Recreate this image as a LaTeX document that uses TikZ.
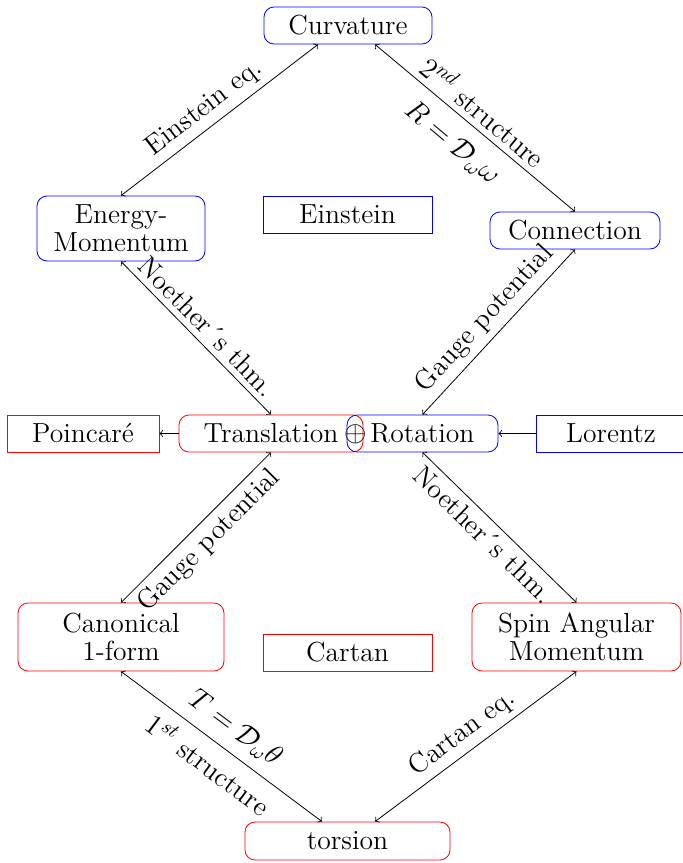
\documentclass[tikz,border=0pt]{standalone}
\usepackage{amsmath}
\begin{document}
\begin{tikzpicture}[x=0.5pt,y=-0.5pt,
  every node/.style={font=\fontsize{13.8}{14}\selectfont},
  boxbase/.style={align=center, inner sep=1pt, minimum height=18.5pt},
  bround/.style={boxbase, draw=blue, rounded corners=5pt},
  rround/.style={boxbase, draw=red, rounded corners=5pt},
  bsquare/.style={boxbase, draw=blue},
  rsquare/.style={boxbase, draw=red},
  lnk/.style={<->, >=to, line width=0.4pt},
  arr/.style={->, >=to, line width=0.4pt},
  lab/.style={sloped, inner sep=3pt}]
\useasboundingbox (0,0) rectangle (682,863);

% blue / top nodes
\node[bround, minimum width=84pt] (curv) at (348,25.5) {Curvature};
\node[bround, minimum width=84pt, minimum height=32.5pt] (em) at (121,228.5) {Energy-\\Momentum};
\node[bsquare, minimum width=84.5pt] (einst) at (347.5,214.5) {Einstein};
\node[bround, minimum width=85pt] (conn) at (575,230.5) {Connection};

% middle row
\node[rsquare, minimum width=76pt] (poinc) at (83,433.5) {Poincar\'e};
\node[rround, minimum width=92pt] (trans) at (271,433.5) {Translation};
\node[bround, minimum width=75.5pt] (rot) at (422.5,433.5) {Rotation};
\node[inner sep=0pt] (oplus) at (356,434) {$\oplus$};
\node[bsquare, minimum width=75pt] (lor) at (611,433.5) {Lorentz};

% bottom nodes
\node[rround, minimum width=103pt, minimum height=34pt] (canon) at (121,637) {Canonical\\1-form};
\node[rsquare, minimum width=84.5pt] (cartan) at (347.5,652.5) {Cartan};
\node[rround, minimum width=104.5pt, minimum height=34pt] (spin) at (576.5,637) {Spin Angular\\Momentum};
\node[rround, minimum width=102.5pt, minimum height=19pt] (tors) at (347.5,841) {torsion};

% connectors
\draw[lnk] ([xshift=-15pt]curv.south) -- node[lab, above, pos=0.52] {Einstein eq.} (em.north);
\draw[lnk] ([xshift=13.5pt]curv.south) --
  node[lab, above, pos=0.485] {$2^{nd}$ structure}
  node[lab, below=4pt, pos=0.47] {$R=\mathcal{D}_\omega\omega$} (conn.north);
\draw[lnk] (em.south) -- node[lab, above, pos=0.5] {Noether\'{}s thm.} (trans.north);
\draw[lnk] (rot.north) -- node[lab, above, pos=0.5] {Gauge potential} (conn.south);
\draw[lnk] (canon.north) -- node[lab, below, pos=0.5] {Gauge potential} (trans.south);
\draw[lnk] (rot.south) -- node[lab, below, pos=0.47] {Noether\'{}s thm.} (spin.north);
\draw[lnk] (canon.south) --
  node[lab, above=2pt, pos=0.5] {$T=\mathcal{D}_\omega\theta$}
  node[lab, below=2pt, pos=0.5] {$1^{st}$ structure} ([xshift=-12.75pt]tors.north);
\draw[lnk] ([xshift=13.75pt]tors.north) -- node[lab, above, pos=0.49] {Cartan eq.} (spin.south);
\draw[arr] (lor.west) -- (rot.east);
\draw[arr] (trans.west) -- (poinc.east);
\end{tikzpicture}
\end{document}
